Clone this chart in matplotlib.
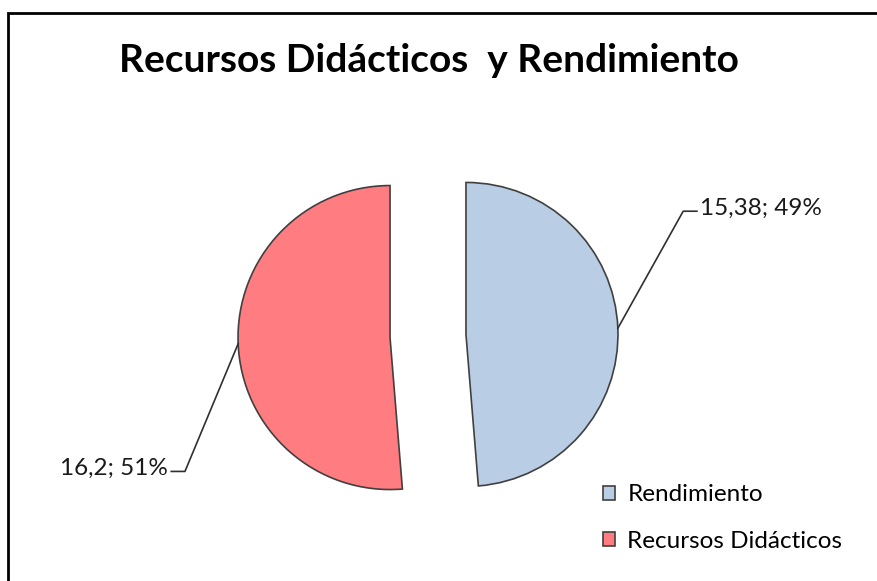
import numpy as np
import matplotlib.pyplot as plt
from matplotlib.patches import Rectangle

# datos del grafico
categorias = ["Rendimiento", "Recursos Didácticos"]
valores = [15.38, 16.2]
etiquetas = ["15,38; 49%", "16,2; 51%"]
colores = ["#B9CDE5", "#FF7C80"]

plt.rcParams['font.family'] = ['Lato', 'DejaVu Sans']

W, H = 878, 581
fig = plt.figure(figsize=(W / 100, H / 100), dpi=100)

# ejes en unidades de radio: centro del pie en (428, 336) px, radio 152 px
cx, cy, R = 428, 336, 152
ax = fig.add_axes([0, 0, 1, 1])

wedges, _ = ax.pie(valores, colors=colores, startangle=90, counterclock=False,
                   explode=[0.25, 0.25], radius=1, frame=True,
                   wedgeprops=dict(edgecolor='#404040', linewidth=1.2))
ax.set_xlim(-cx / R, (W - cx) / R)
ax.set_ylim(-(H - cy) / R, cy / R)
ax.axis('off')

# lineas guia y etiquetas
codos = [(0.43, 0.77), (-0.35, -0.84)]
for w, txt, (dx, dy) in zip(wedges, etiquetas, codos):
    ang = np.deg2rad((w.theta1 + w.theta2) / 2)
    x0 = w.center[0] + np.cos(ang)
    y0 = w.center[1] + np.sin(ang)
    xc, yc = x0 + dx, y0 + dy
    lado = 1 if dx > 0 else -1
    xf = xc + lado * 0.09
    ax.plot([x0, xc, xf], [y0, yc, yc], color='#303030', lw=1.2)
    ax.text(xf + lado * 0.02, yc + 0.02, txt, fontsize=17.5, color='#1a1a1a',
            ha='left' if lado > 0 else 'right', va='center')

fig.text(429 / W, 1 - 60 / H, "Recursos Didácticos  y Rendimiento",
         fontsize=28, fontweight='bold', ha='center', va='center')

fig.legend(wedges, categorias, loc='center left',
           bbox_to_anchor=(603 / W, 1 - 518 / H), frameon=False,
           fontsize=17.5, handlelength=0.5, handleheight=0.5,
           handletextpad=0.5, labelspacing=1.05, borderpad=0,
           borderaxespad=0)

# borde de la figura
fig.add_artist(Rectangle((8 / W, -0.1), 2, 1.1 - 13 / H, transform=fig.transFigure,
                         fill=False, edgecolor='black', linewidth=2))

fig.savefig("out.png", dpi=100)
